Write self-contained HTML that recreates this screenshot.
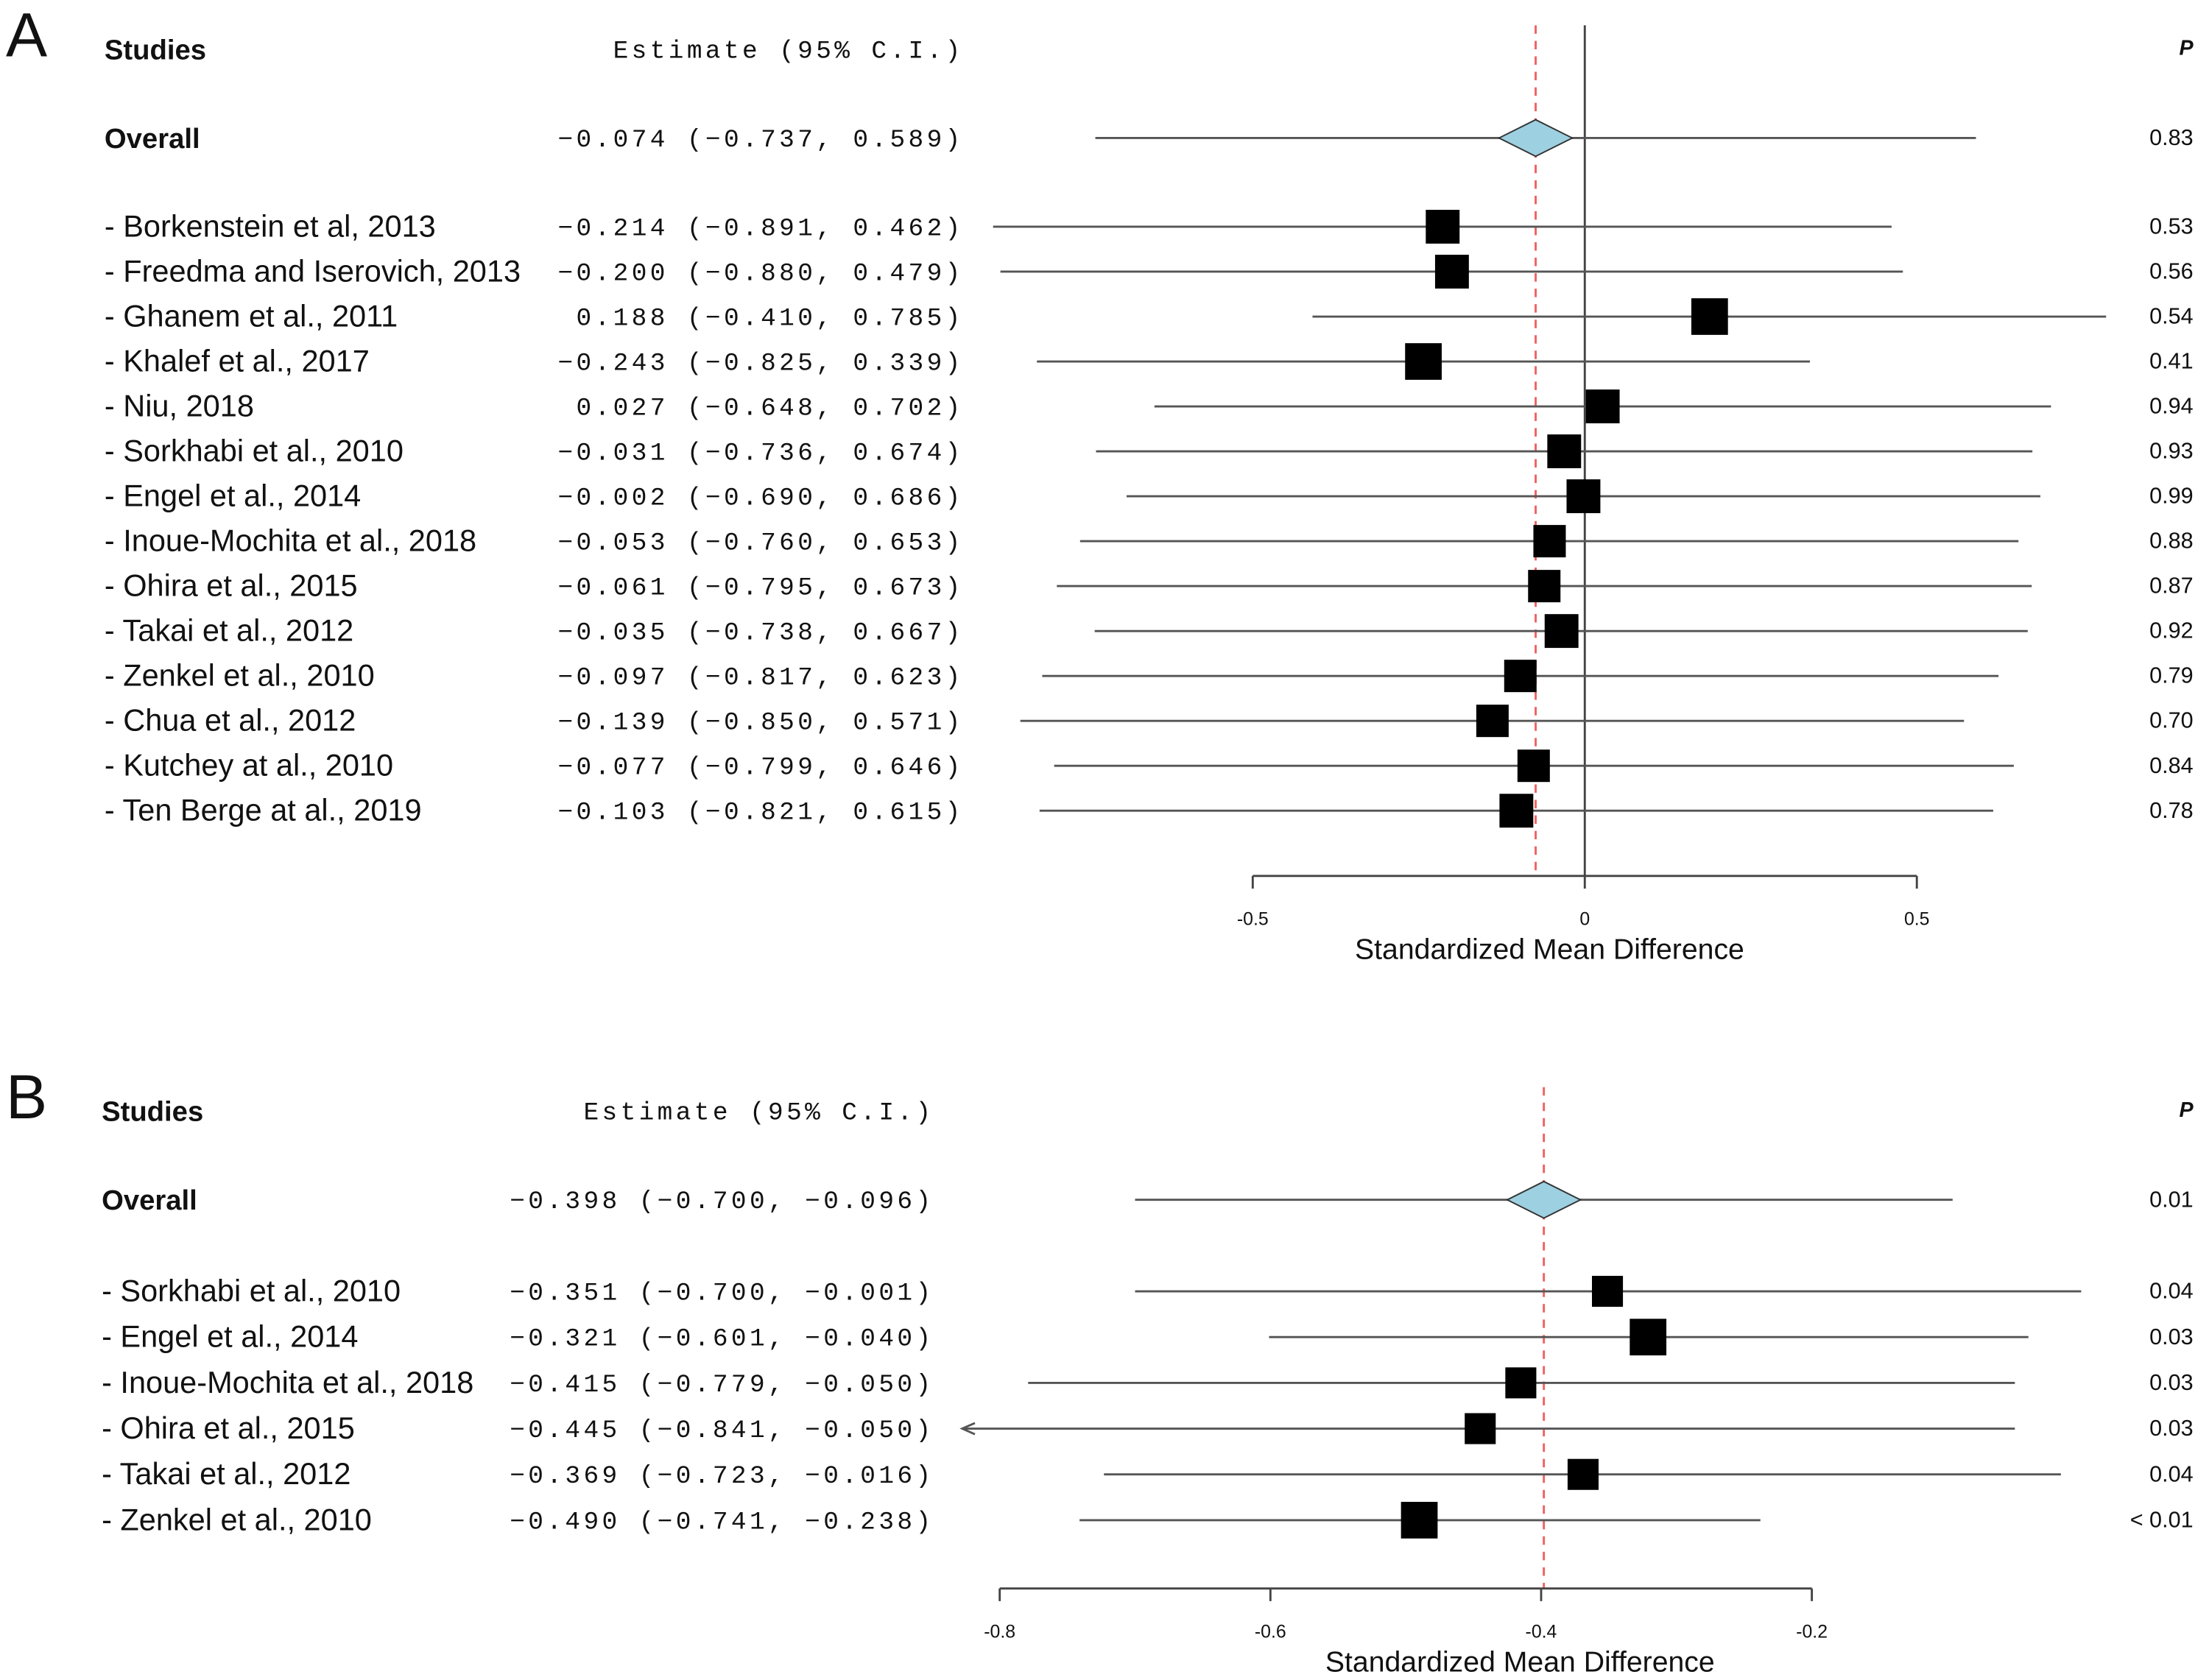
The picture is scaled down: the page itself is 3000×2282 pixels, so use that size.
<!DOCTYPE html>
<html><head><meta charset="utf-8"><style>
html,body{margin:0;padding:0;background:#fff;}
svg{display:block;}
text{font-family:"Liberation Sans",sans-serif;fill:#111;}
.mono{font-family:"Liberation Mono",monospace;font-size:18px;letter-spacing:2.3px;}
</style></head><body>
<svg id="fig" width="3000" height="2282" viewBox="0 0 1568 1193" xmlns="http://www.w3.org/2000/svg"></svg>
<script>
// Panel A data
const studiesA = ["Borkenstein et al, 2013","Freedma and Iserovich, 2013","Ghanem et al., 2011","Khalef et al., 2017","Niu, 2018","Sorkhabi et al., 2010","Engel et al., 2014","Inoue-Mochita et al., 2018","Ohira et al., 2015","Takai et al., 2012","Zenkel et al., 2010","Chua et al., 2012","Kutchey at al., 2010","Ten Berge at al., 2019"];
const estA = [-0.214,-0.200,0.188,-0.243,0.027,-0.031,-0.002,-0.053,-0.061,-0.035,-0.097,-0.139,-0.077,-0.103];
const loA = [-0.891,-0.880,-0.410,-0.825,-0.648,-0.736,-0.690,-0.760,-0.795,-0.738,-0.817,-0.850,-0.799,-0.821];
const hiA = [0.462,0.479,0.785,0.339,0.702,0.674,0.686,0.653,0.673,0.667,0.623,0.571,0.646,0.615];
const pA = ["0.53","0.56","0.54","0.41","0.94","0.93","0.99","0.88","0.87","0.92","0.79","0.70","0.84","0.78"];
const sizeA = [24,24,26,26,24,24,24,23,23,24,23,23,23,24];
const overallA = [-0.074,-0.737,0.589]; const pOverallA = "0.83";
const ticksA = [-0.5,0,0.5]; const tickLabelsA = ["-0.5","0","0.5"];
// Panel B data
const studiesB = ["Sorkhabi et al., 2010","Engel et al., 2014","Inoue-Mochita et al., 2018","Ohira et al., 2015","Takai et al., 2012","Zenkel et al., 2010"];
const estB = [-0.351,-0.321,-0.415,-0.445,-0.369,-0.490];
const loB = [-0.700,-0.601,-0.779,-0.841,-0.723,-0.741];
const hiB = [-0.001,-0.040,-0.050,-0.050,-0.016,-0.238];
const pB = ["0.04","0.03","0.03","0.03","0.04","< 0.01"];
const sizeB = [22,26,22,22,22,26];
const overallB = [-0.398,-0.700,-0.096]; const pOverallB = "0.01";
const ticksB = [-0.8,-0.6,-0.4,-0.2]; const tickLabelsB = ["-0.8","-0.6","-0.4","-0.2"];

const svg = document.getElementById('fig');
const NS = "http://www.w3.org/2000/svg";
function mk(tag, attrs, txt){const e=document.createElementNS(NS,tag);for(const k in attrs)e.setAttribute(k,attrs[k]);if(txt!==undefined)e.textContent=txt;svg.appendChild(e);return e;}
function f3(v){return (v<0?"\u2212":"")+Math.abs(v).toFixed(3);}
function ci(e,l,h){return f3(e)+" ("+f3(l)+", "+f3(h)+")";}

function panel(cfg){
  const X = v => cfg.x0 + (v - cfg.v0) * cfg.k;
  let t;
  t=mk('text',{x:cfg.letterX,y:cfg.headY+5,'font-size':44});t.textContent=cfg.letter;
  
  
  t=mk('text',{x:cfg.labelX,y:cfg.headY+7,'font-size':20,'font-weight':'bold'},'Studies');
  
  
  t=mk('text',{x:cfg.estX+2,y:cfg.headY+6,'text-anchor':'end','class':'mono'},'Estimate (95% C.I.)');
  
  
  t=mk('text',{x:1557,y:cfg.headY+4,'text-anchor':'end','font-size':15,'font-style':'italic','font-weight':'bold'},'P');
  
  
  if(cfg.zero){const l=mk('line',{x1:X(0),x2:X(0),y1:cfg.headY-17,y2:cfg.axisY,stroke:'#444','stroke-width':1.5});
    
    }
  const d=mk('line',{x1:X(cfg.overall[0]),x2:X(cfg.overall[0]),y1:cfg.headY-17,y2:cfg.axisY,stroke:'#f06060','stroke-width':1.5,'stroke-dasharray':'6,5'});
  
  
  const oy=cfg.overallY;
  t=mk('text',{x:cfg.labelX,y:oy+7,'font-size':20,'font-weight':'bold'},'Overall');
  
  
  t=mk('text',{x:cfg.estX+2,y:oy+6,'text-anchor':'end','class':'mono'},ci(cfg.overall[0],cfg.overall[1],cfg.overall[2]));
  
  
  let l=mk('line',{x1:X(cfg.overall[1]),x2:X(cfg.overall[2]),y1:oy,y2:oy,stroke:'#555','stroke-width':1.5});
  
  
  const cx=X(cfg.overall[0]);
  const dm=mk('polygon',{points:`${cx-26},${oy} ${cx},${oy-13} ${cx+26},${oy} ${cx},${oy+13}`,fill:'#9dd0e0',stroke:'#333','stroke-width':1});
  
  
  t=mk('text',{x:1557,y:oy+5,'text-anchor':'end','font-size':16},cfg.pOverall);
  
  
  cfg.studies.forEach((s,i)=>{
    const y=cfg.firstY+i*cfg.step;
    let e=mk('text',{x:cfg.labelX,y:y+7,'font-size':21.7},'- '+s);
    
    
    e=mk('text',{x:cfg.estX+2,y:y+6,'text-anchor':'end','class':'mono'},ci(cfg.est[i],cfg.lo[i],cfg.hi[i]));
    
    
    let lo=cfg.lo[i], x1=X(lo), arrow=false;
    if(x1<cfg.clipL){x1=cfg.clipL;arrow=true;}
    e=mk('line',{x1:x1,x2:X(cfg.hi[i]),y1:y,y2:y,stroke:'#555','stroke-width':1.5});
    
    
    if(arrow){e=mk('polyline',{points:`${x1+9},${y-4} ${x1},${y} ${x1+9},${y+4}`,fill:'none',stroke:'#555','stroke-width':1.5});
      
      }
    const sz=cfg.size[i];
    e=mk('rect',{x:X(cfg.est[i])-sz/2,y:y-sz/2,width:sz,height:sz,fill:'#000'});
    
    
    e=mk('text',{x:1557,y:y+5,'text-anchor':'end','font-size':16},cfg.p[i]);
    
    
  });
  const ax=mk('line',{x1:X(cfg.ticks[0]),x2:X(cfg.ticks[cfg.ticks.length-1]),y1:cfg.axisY,y2:cfg.axisY,stroke:'#444','stroke-width':1.5});
  
  
  cfg.ticks.forEach((v,i)=>{
    let e=mk('line',{x1:X(v),x2:X(v),y1:cfg.axisY,y2:cfg.axisY+9,stroke:'#444','stroke-width':1.5});
    
    
    e=mk('text',{x:X(v),y:cfg.axisY+35,'text-anchor':'middle','font-size':13},cfg.tickLabels[i]);
    
    
  });
  t=mk('text',{x:cfg.titleX,y:cfg.axisY+59,'text-anchor':'middle','font-size':20.5},'Standardized Mean Difference');
  
  
}

panel({letter:'A',letterX:4,labelX:74,estX:682,headY:35,overallY:98,firstY:161,step:31.9,
  x0:1125,v0:0,k:471.5,zero:true,axisY:622,clipL:0,titleX:1100,
  studies:studiesA,est:estA,lo:loA,hi:hiA,p:pA,size:sizeA,overall:overallA,pOverall:pOverallA,ticks:ticksA,tickLabels:tickLabelsA});
panel({letter:'B',letterX:4,labelX:72,estX:661,headY:789,overallY:852,firstY:917,step:32.5,
  x0:1094,v0:-0.4,k:961,zero:false,axisY:1128,clipL:683,titleX:1079,
  studies:studiesB,est:estB,lo:loB,hi:hiB,p:pB,size:sizeB,overall:overallB,pOverall:pOverallB,ticks:ticksB,tickLabels:tickLabelsB});
</script>
</body></html>
